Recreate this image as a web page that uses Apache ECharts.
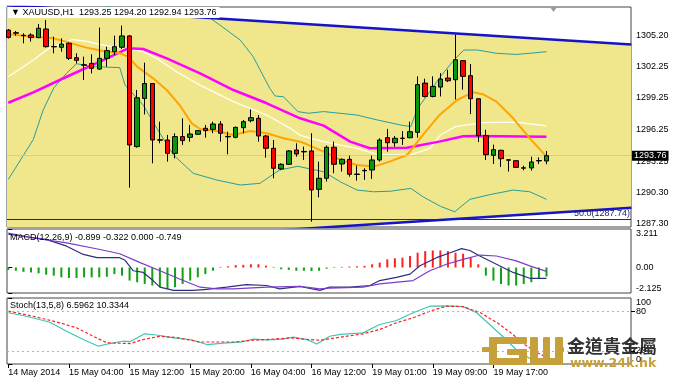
<!DOCTYPE html>
<html><head><meta charset="utf-8">
<script src="https://cdn.jsdelivr.net/npm/echarts@6/dist/echarts.min.js"></script>
<style>html,body{margin:0;padding:0;background:#fff}#c{width:679px;height:383px}</style>
</head><body><div id="c"></div>
<script>
// ---- data ----
const tickIdx = [0, 8, 16, 24, 32, 40, 48, 56, 64];
const tickLabels = ['14 May 2014', '15 May 04:00', '15 May 12:00', '15 May 20:00', '16 May 04:00', '16 May 12:00', '19 May 01:00', '19 May 09:00', '19 May 17:00'];
const priceTicks = [1287.30, 1290.30, 1293.25, 1296.25, 1299.25, 1302.25, 1305.20];
const macdTicks = [-2.125, 0, 3.211];
const stochEdgeTicks = [0, 100];
const stochLevelTicks = [20, 80];

const open  = [1305.70,1305.45,1305.20,1305.23,1304.98,1305.80,1304.14,1304.06,1304.44,1303.07,1302.40,1302.53,1301.99,1303.01,1303.64,1304.06,1305.14,1294.62,1299.20,1300.62,1295.27,1295.25,1293.98,1295.57,1295.50,1295.79,1296.36,1296.26,1296.77,1295.59,1295.50,1296.42,1297.08,1297.31,1295.63,1294.46,1292.50,1292.94,1294.30,1294.16,1294.21,1290.56,1291.61,1294.56,1292.97,1293.41,1292.01,1292.36,1292.40,1293.35,1295.47,1294.99,1295.43,1295.47,1295.98,1300.66,1299.39,1300.28,1301.14,1300.98,1302.79,1301.36,1299.17,1295.66,1293.79,1294.27,1293.37,1293.28,1292.61,1292.59,1293.30,1293.25];
const high  = [1305.80,1305.61,1305.39,1305.39,1306.28,1306.66,1305.07,1304.91,1304.53,1303.49,1303.17,1303.39,1305.93,1304.12,1305.17,1306.12,1305.23,1300.01,1302.60,1300.62,1296.99,1295.73,1295.89,1297.31,1296.68,1296.20,1296.68,1296.99,1297.05,1296.04,1296.52,1297.15,1298.16,1297.62,1295.73,1295.25,1293.04,1294.30,1294.94,1294.62,1295.89,1293.19,1294.72,1295.09,1293.51,1293.76,1292.81,1292.56,1293.76,1295.41,1296.30,1295.63,1296.10,1296.99,1301.30,1301.08,1301.30,1301.61,1301.93,1305.26,1302.85,1302.47,1299.20,1296.23,1294.81,1294.33,1293.44,1293.35,1292.81,1293.66,1293.60,1294.20];
const low   = [1304.90,1305.17,1304.44,1304.60,1304.92,1304.03,1303.49,1303.64,1302.85,1302.53,1300.95,1301.58,1301.90,1302.22,1303.33,1303.90,1290.72,1294.52,1297.68,1293.03,1294.94,1293.19,1293.50,1294.78,1295.09,1295.73,1295.47,1295.89,1295.09,1293.89,1295.41,1295.89,1296.93,1295.09,1293.57,1291.61,1292.40,1292.88,1293.66,1293.35,1287.48,1289.80,1291.30,1292.09,1292.25,1291.77,1291.39,1291.46,1291.55,1293.19,1294.14,1294.62,1294.78,1295.41,1295.47,1299.30,1299.30,1299.39,1300.75,1299.10,1300.03,1297.71,1295.06,1293.35,1292.97,1292.68,1292.25,1292.59,1292.37,1292.34,1292.97,1292.94];
const close = [1305.00,1305.40,1305.17,1304.98,1305.87,1304.12,1304.10,1304.37,1303.01,1302.82,1302.36,1302.06,1303.01,1303.74,1304.12,1305.14,1294.78,1299.26,1300.62,1295.25,1295.23,1293.98,1295.57,1295.19,1295.82,1296.14,1296.14,1296.77,1295.89,1295.55,1296.45,1296.99,1297.37,1295.63,1294.46,1292.56,1292.94,1294.21,1293.92,1294.12,1290.50,1291.61,1294.56,1292.94,1293.41,1291.99,1291.97,1292.32,1293.35,1295.25,1294.99,1295.41,1295.39,1296.04,1300.51,1299.39,1300.34,1301.04,1300.88,1302.88,1301.30,1299.17,1295.66,1293.85,1294.33,1293.47,1293.33,1292.65,1292.57,1293.16,1293.26,1293.76];

// indicator lines: [bar index, value]
const maOrange = [[0,1305.29],[3.3,1305.07],[6,1304.91],[7.9,1304.53],[10.3,1304.03],[12.5,1303.71],[14.7,1303.49],[15.8,1303.17],[17,1302.22],[19.1,1301.11],[20.9,1300.0],[22.6,1298.57],[24.2,1296.83],[25.3,1296.29],[27.5,1296.1],[29.7,1295.73],[31.9,1296.1],[34.1,1295.89],[36.3,1295.41],[38.5,1295.09],[39.4,1294.84],[41.6,1294.14],[43.8,1293.35],[46,1292.87],[48.2,1292.72],[50.3,1293.19],[52.6,1293.82],[54.7,1295.73],[56.9,1297.63],[59.2,1299.05],[61.3,1299.78],[62.6,1299.6],[64.4,1298.9],[66.6,1297.31],[68.8,1295.41],[71,1293.67]];
const maMagenta = [[0,1298.79],[3.3,1299.78],[7.7,1301.26],[12.1,1302.69],[15.8,1303.96],[17.8,1303.9],[20.9,1303.01],[25.3,1301.59],[29.7,1300.0],[34.1,1298.74],[38.5,1297.31],[41.6,1296.61],[45.1,1295.09],[47.7,1294.46],[52.6,1294.52],[57,1295.12],[60,1295.6],[61.7,1295.63],[71,1295.56]];
const maWhite = [[0,1301.26],[3.3,1302.85],[5.5,1304.03],[8.5,1304.8],[10.5,1304.6],[13,1304.2],[15.5,1303.96],[17.8,1303.64],[19.6,1303.01],[22.2,1301.74],[25.3,1300.47],[29.7,1298.89],[34.1,1297.62],[37.2,1296.36],[38.5,1295.7],[41.6,1295.09],[46,1294.46],[48.7,1293.89],[53,1293.82],[55.6,1294.46],[57,1295.72],[59,1296.52],[62.5,1296.9],[67,1296.95],[71,1296.6]];
const bbUpper = [[0,1311.0],[8,1309.2],[13,1307.95],[14.5,1307.8],[16.5,1308.5],[20,1309.2],[24,1308.2],[26.5,1306.9],[27.9,1306.18],[30.6,1304.75],[32.3,1303.17],[34.5,1300.16],[35.2,1299.43],[36.3,1299.36],[38.2,1297.95],[39.6,1297.79],[41.6,1297.95],[46,1297.62],[48.7,1297.15],[51.8,1296.67],[53.1,1296.52],[54,1298.26],[55.3,1299.53],[57,1301.26],[58.8,1302.85],[60.1,1303.8],[61.9,1303.8],[64.4,1303.49],[67,1303.38],[68.8,1303.49],[71,1303.64]];
const bbLower = [[0,1291.5],[3.3,1295.3],[4.6,1298.1],[6,1300.2],[7.7,1301.6],[9,1302.5],[11.2,1302.22],[14.7,1302.13],[15.4,1300.47],[17.8,1298.57],[19.6,1296.36],[21.8,1293.82],[24.4,1292.08],[27.5,1291.45],[30.6,1290.97],[33.2,1291.13],[34.5,1291.77],[35.8,1292.4],[38.2,1292.75],[41.6,1292.23],[43.8,1291.28],[46,1290.49],[48.2,1290.33],[50.4,1290.38],[53.1,1290.65],[54.7,1289.86],[57,1288.95],[58.9,1288.43],[60.9,1289.61],[63.5,1290.05],[66.6,1290.49],[68.8,1290.33],[71,1289.61]];
const upperTrend = [[-0.2,1308.06],[82.2,1304.33]];
const lowerTrend = [[-0.2,1285.01],[82.2,1288.81]];
const fibLevel = 1287.74;

const macdHist = [-0.2,-0.27,-0.36,-0.41,-0.49,-0.6,-0.68,-0.82,-0.87,-0.87,-0.82,-0.82,-0.82,-0.77,-0.55,-0.68,-1.09,-1.23,-1.37,-1.5,-1.64,-1.78,-1.64,-1.37,-1.09,-0.82,-0.55,-0.27,0.05,0.1,0.2,0.22,0.27,0.27,0.15,0.05,-0.15,-0.2,-0.27,-0.27,-0.3,-0.27,-0.1,0.05,0.05,0.08,0.1,0.14,0.27,0.41,0.68,0.77,0.82,0.96,1.23,1.37,1.42,1.42,1.37,1.23,1.15,0.82,0.27,-0.68,-1.09,-1.37,-1.5,-1.5,-1.37,-1.23,-0.96,-0.75];
const macdMain = [[0,2.79],[5.1,2.32],[7.7,1.78],[9.9,1.09],[11.7,0.82],[14.7,0.82],[15.4,0.6],[16.5,-0.27],[17.8,-0.41],[19.1,-1.09],[20,-1.64],[21.8,-1.91],[24.4,-1.91],[26.2,-1.83],[28.8,-1.64],[31.4,-1.42],[34.1,-1.5],[35.8,-1.78],[38.5,-1.58],[41.1,-1.91],[42.4,-1.64],[45.1,-1.64],[47.7,-1.5],[49,-1.09],[51.2,-0.82],[53,-0.55],[54.3,0.14],[56.5,0.82],[58.3,1.23],[59.8,1.58],[60.9,1.42],[62.2,0.96],[64.4,0.27],[66.6,-0.41],[68.8,-0.9],[71,-0.9]];
const macdSignal = [[0,2.87],[3.3,2.46],[7.7,2.05],[12.1,1.5],[14.7,1.15],[17.4,0.41],[20,-0.27],[22.6,-0.96],[25.3,-1.64],[27.5,-1.78],[29.7,-1.78],[34.1,-1.64],[38.5,-1.58],[41.1,-1.78],[42.4,-1.72],[46.8,-1.64],[49,-1.37],[53.4,-1.09],[55.6,-0.27],[57.8,0.27],[60,0.68],[62.2,1.04],[64.4,0.96],[67,0.55],[68.8,0.14],[71,-0.32]];
const stochMain = [[0,77.6],[2.4,72.4],[5.5,63.3],[7.7,49.7],[9.9,37.1],[11.9,27],[13.4,31],[15.2,34.8],[16.1,34],[18,45.7],[19.6,43.9],[21.8,39.7],[24,37.1],[26.2,29.5],[28.8,32],[30.6,33],[32.3,37.6],[34.1,36.5],[36.3,37.6],[37.6,40.6],[39.4,37],[40.7,30.3],[42.4,42],[43.8,45],[46.8,47.2],[49,59.8],[51.2,65.9],[53.4,77.6],[55.6,87.6],[57.8,88],[60,87],[61.8,77.6],[63.5,59.8],[65.2,42.1],[67,22],[68.8,8.3],[70.6,7],[71,6.6]];
const stochSignal = [[0,80],[3.3,72.4],[6.8,62.4],[9,54.8],[11.2,42.1],[13,32.1],[16.1,31],[17.8,37.1],[20,42],[22.2,40],[25.3,33.3],[29.7,33.3],[32.3,36],[34.1,37],[37.2,39.6],[39.8,37],[41.1,36],[42.4,38.2],[46.8,45.7],[49,52.3],[51.2,62.4],[53.4,70],[55.6,80],[57.8,87.6],[60,87],[62.3,77.6],[64.5,62.4],[66.3,47.2],[68.1,29.5],[69.8,17],[71,10.3]];

// ---- chart ----
const FONT = 'Liberation Sans';
const chart = echarts.init(document.getElementById('c'), null, {width: 679, height: 383});
const candleData = open.map((o, i) => [i, o, close[i], low[i], high[i]]);
const lastClose = close[close.length - 1];
const headerText = '\u25BC XAUUSD,H1  ' + [open[71], high[71], low[71], close[71]].map(v => v.toFixed(2)).join(' ');

const xBase = {type: 'value', min: -0.17, max: 82.15, axisLine: {show: false}, splitLine: {show: false}, axisTick: {show: false}, axisLabel: {show: false}};
const labelBase = {fontSize: 9, color: '#000', fontFamily: FONT, margin: 5, hideOverlap: false, showMinLabel: true, showMaxLabel: true};
const gridBase = {left: 7, right: 48, show: true, borderColor: '#444', borderWidth: 1, backgroundColor: '#fff'};
const lineBase = {type: 'line', symbol: 'none', silent: true, animation: false, smooth: false};
const GOLD = '#c6a03a';
const tickStyle = {length: 4, lineStyle: {color: '#000'}};

const logoRects = [
  [482, 347, 8, 5], [555, 347, 9, 5],            // side stubs
  [489, 337, 38, 7], [489, 337, 8, 28], [489, 358, 38, 7], [519, 349, 8, 16], [507, 349, 20, 6], // G
  [530, 337, 8, 28], [543, 337, 7, 28], [555, 337, 8, 28], [530, 358, 33, 7]                     // W
];

chart.setOption({
  animation: false,
  backgroundColor: '#fff',
  textStyle: {fontFamily: FONT},
  title: [
    {text: headerText, left: 8, top: 7, padding: [1, 3, 1, 3], backgroundColor: '#fff', textStyle: {fontSize: 9, fontWeight: 'normal', color: '#000', fontFamily: FONT}},
    {text: 'MACD(12,26,9) -0.899 -0.322 0.000 -0.749', left: 10, top: 233, padding: 0, textStyle: {fontSize: 9, fontWeight: 'normal', color: '#000', fontFamily: FONT}},
    {text: 'Stoch(13,5,8) 6.5962 10.3344', left: 10, top: 301, padding: 0, textStyle: {fontSize: 9, fontWeight: 'normal', color: '#000', fontFamily: FONT}}
  ],
  grid: [
    Object.assign({top: 7, height: 220}, gridBase),
    Object.assign({top: 229, height: 64}, gridBase),
    Object.assign({top: 298, height: 66}, gridBase)
  ],
  xAxis: [
    Object.assign({gridIndex: 0}, xBase),
    Object.assign({gridIndex: 1}, xBase),
    Object.assign({}, xBase, {gridIndex: 2,
      axisTick: Object.assign({show: true, customValues: tickIdx}, tickStyle),
      axisLabel: Object.assign({show: true, customValues: tickIdx, align: 'left', formatter: v => tickLabels[tickIdx.indexOf(v)]}, labelBase, {margin: 4})})
  ],
  yAxis: [
    {gridIndex: 0, type: 'value', position: 'right', min: 1286.98, max: 1307.89, splitLine: {show: false}, axisLine: {show: false},
     axisTick: Object.assign({show: true, customValues: priceTicks}, tickStyle),
     axisLabel: Object.assign({customValues: priceTicks, formatter: v => v.toFixed(2)}, labelBase)},
    {gridIndex: 1, type: 'value', position: 'right', min: -2.125, max: 3.211, splitLine: {show: false}, axisLine: {show: false},
     axisTick: Object.assign({show: true, customValues: macdTicks}, tickStyle),
     axisLabel: Object.assign({customValues: macdTicks, verticalAlignMinLabel: 'bottom', verticalAlignMaxLabel: 'top', formatter: v => v === 0 ? '0.00' : String(v)}, labelBase)},
    {gridIndex: 2, type: 'value', position: 'right', offset: 0, min: 0, max: 100, z: 200, splitLine: {show: false}, axisLine: {show: false},
     axisTick: Object.assign({show: true, customValues: stochEdgeTicks}, tickStyle),
     axisLabel: Object.assign({customValues: stochEdgeTicks, verticalAlignMinLabel: 'bottom', verticalAlignMaxLabel: 'top', formatter: v => String(v)}, labelBase)},
    {gridIndex: 2, type: 'value', position: 'right', offset: 0, min: 0, max: 100, z: 200, splitLine: {show: false}, axisLine: {show: false},
     axisTick: Object.assign({show: true, customValues: stochLevelTicks}, tickStyle),
     axisLabel: Object.assign({customValues: stochLevelTicks, formatter: v => String(v)}, labelBase)}
  ],
  series: [
    {type: 'custom', xAxisIndex: 0, yAxisIndex: 0, z: 1, clip: true, silent: true, data: [[0, 1300]],
     renderItem: (params, api) => ({type: 'polygon', shape: {points: [api.coord(upperTrend[0]), api.coord(upperTrend[1]), api.coord(lowerTrend[1]), api.coord(lowerTrend[0])]}, style: {fill: '#f0e68c', stroke: null}})},
    Object.assign({}, lineBase, {xAxisIndex: 0, yAxisIndex: 0, z: 2, data: bbUpper, lineStyle: {color: '#2a9d9a', width: 1}}),
    Object.assign({}, lineBase, {xAxisIndex: 0, yAxisIndex: 0, z: 2, data: bbLower, lineStyle: {color: '#2a9d9a', width: 1}}),
    Object.assign({}, lineBase, {xAxisIndex: 0, yAxisIndex: 0, z: 2, data: maWhite, lineStyle: {color: '#fffff2', width: 1.3}}),
    Object.assign({}, lineBase, {xAxisIndex: 0, yAxisIndex: 0, z: 2, data: maMagenta, lineStyle: {color: '#ff00ff', width: 2.5}}),
    Object.assign({}, lineBase, {xAxisIndex: 0, yAxisIndex: 0, z: 2, data: maOrange, lineStyle: {color: '#ffa500', width: 2}}),
    Object.assign({}, lineBase, {xAxisIndex: 0, yAxisIndex: 0, z: 3, data: upperTrend, lineStyle: {color: '#1414c8', width: 2.5}}),
    Object.assign({}, lineBase, {xAxisIndex: 0, yAxisIndex: 0, z: 3, data: lowerTrend, lineStyle: {color: '#1414c8', width: 2.5}}),
    {type: 'candlestick', xAxisIndex: 0, yAxisIndex: 0, z: 5, silent: true, barWidth: 5, data: candleData, encode: {x: 0, y: [1, 2, 3, 4]},
     itemStyle: {color: '#0a960a', color0: '#ff0000', borderColor: '#000', borderColor0: '#000', borderWidth: 1},
     markLine: {symbol: 'none', silent: true, animation: false, precision: 2, data: [
       {yAxis: lastClose, lineStyle: {color: '#c8c8c8', width: 1, type: 'solid'},
        label: {show: true, position: 'end', distance: 1, formatter: lastClose.toFixed(2), backgroundColor: '#000', color: '#fff', padding: [1, 2, 0, 2], fontSize: 9, fontFamily: FONT}},
       {yAxis: fibLevel, lineStyle: {color: '#23236e', width: 1, type: 'solid'},
        label: {show: true, position: 'insideEndTop', distance: 1, formatter: '50.0(' + fibLevel.toFixed(2) + ')', color: '#23236e', fontSize: 9, fontFamily: FONT}}
     ]}},
    {type: 'bar', xAxisIndex: 1, yAxisIndex: 1, barWidth: 2, silent: true, z: 2,
     data: macdHist.map((v, i) => ({value: [i, v], itemStyle: {color: v >= 0 ? '#ff2020' : '#10a010'}}))},
    Object.assign({}, lineBase, {xAxisIndex: 1, yAxisIndex: 1, z: 3, data: macdMain, lineStyle: {color: '#2e2e80', width: 1.2}}),
    Object.assign({}, lineBase, {xAxisIndex: 1, yAxisIndex: 1, z: 3, data: macdSignal, lineStyle: {color: '#7a3cc8', width: 1.2}}),
    Object.assign({}, lineBase, {xAxisIndex: 2, yAxisIndex: 2, z: 3, data: stochMain, lineStyle: {color: '#3cc8b4', width: 1.2},
     markLine: {symbol: 'none', silent: true, animation: false, label: {show: false}, lineStyle: {color: '#b4b4b4', width: 1, type: [2, 3]}, data: [{yAxis: 80}, {yAxis: 20}]}}),
    Object.assign({}, lineBase, {xAxisIndex: 2, yAxisIndex: 2, z: 3, data: stochSignal, lineStyle: {color: '#ff2020', width: 1.2, type: [3, 2]}})
  ],
  graphic: [
    {type: 'polygon', z: 100, silent: true, shape: {points: [[550, 7], [557, 7], [553.5, 12]]}, style: {fill: '#9a9a9a'}}
  ].concat(logoRects.map(r => ({type: 'rect', z: 100, silent: true, shape: {x: r[0], y: r[1], width: r[2], height: r[3], r: 1}, style: {fill: GOLD}})))
   .concat([
    {type: 'text', z: 100, silent: true, left: 567, top: 337, style: {text: '金道貴金屬', fontSize: 18, fontWeight: 'bold', fontFamily: 'Noto Sans CJK TC', fill: '#333'}},
    {type: 'text', z: 100, silent: true, left: 570, top: 357, style: {text: 'www.24k.hk', fontSize: 12.5, fontWeight: 'bold', fontFamily: 'DejaVu Sans', fill: GOLD}}
  ])
});
</script>
</body></html>
